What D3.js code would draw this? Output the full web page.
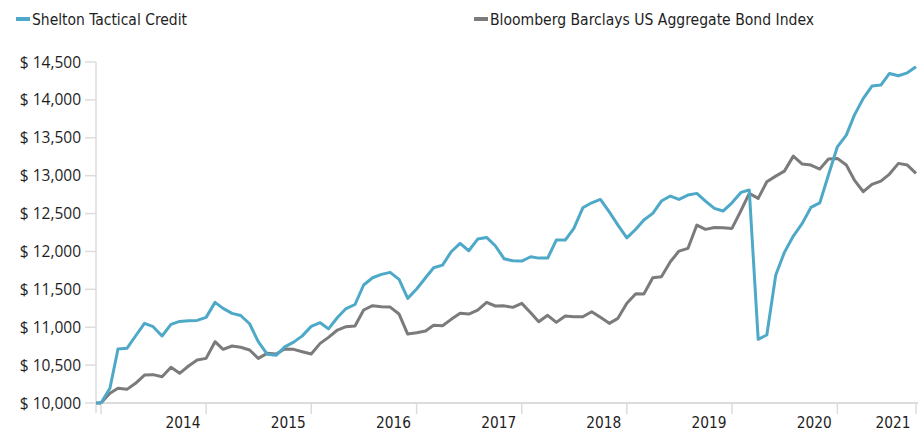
<!DOCTYPE html>
<html>
<head>
<meta charset="utf-8">
<script src="https://cdn.jsdelivr.net/npm/d3@7"></script>
<style>
  html, body { margin: 0; padding: 0; background: #fff; }
  svg { display: block; font-family: "Open Sans", "Noto Sans", sans-serif; }
</style>
</head>
<body>
<div id="chart"></div>
<script>
/* Growth of $10,000 — fund vs. benchmark, month-end values Dec 2013 .. Sep 2021. */
const seriesNames = ['Shelton Tactical Credit', 'Bloomberg Barclays US Aggregate Bond Index'];
const seriesColors = ['#4ea9c8', '#7b7b7b'];

const shelton = [
  10000,10194,10712,10721,10884,11051,11007,10884,11037,11077,11086,11090,
  11130,11328,11249,11183,11155,11046,10809,10644,10629,10740,10803,10886,
  11011,11060,10978,11128,11246,11300,11557,11653,11697,11724,11631,11381,
  11504,11653,11785,11820,11996,12106,12009,12163,12185,12075,11903,11877,
  11873,11930,11912,11912,12150,12150,12304,12576,12642,12686,12523,12348,
  12180,12293,12414,12502,12665,12731,12686,12744,12766,12665,12568,12533,
  12642,12779,12810,10840,10897,11689,11988,12203,12370,12581,12642,13008,
  13381,13535,13799,14020,14182,14195,14349,14318,14357,14436
];
const aggregate = [
  10000,10128,10194,10180,10260,10369,10374,10347,10471,10392,10488,10567,
  10589,10809,10708,10752,10735,10699,10589,10655,10646,10712,10708,10677,
  10646,10787,10866,10963,11007,11016,11227,11284,11270,11266,11174,10910,
  10928,10950,11025,11020,11104,11183,11174,11227,11328,11280,11282,11262,
  11315,11192,11073,11157,11064,11148,11139,11139,11205,11130,11051,11117,
  11315,11442,11438,11653,11666,11864,12005,12040,12348,12291,12317,12313,
  12304,12537,12766,12700,12919,12994,13060,13258,13153,13140,13087,13219,
  13228,13140,12942,12788,12885,12929,13021,13162,13140,13030
];
const yTicks = [10000,10500,11000,11500,12000,12500,13000,13500,14000,14500];
// x ticks: year-ends plus the last month; label sits left of its tick
const xTickDates = ['2014-12-31','2015-12-31','2016-12-31','2017-12-31','2018-12-31','2019-12-31','2020-12-31','2021-09-30'];
const xTickLabels = ['2014','2015','2016','2017','2018','2019','2020','2021'];

(function(){
  const W = 918, H = 432;
  const condensed = '"DejaVu Sans Condensed", "Liberation Sans Narrow", sans-serif';
  const parse = d3.utcParse('%Y-%m-%d');
  // month-end dates for each value
  const start = new Date(Date.UTC(2013, 11, 31));
  const dates = shelton.map((_, i) => d3.utcDay.offset(d3.utcMonth.offset(new Date(Date.UTC(2014, 0, 1)), i), -1));
  const end = dates[dates.length - 1];

  const x = d3.scaleUtc().domain([start, end]).range([101, 916]);
  const y = d3.scaleLinear().domain([10000, 14500]).range([403, 62]);

  const svg = d3.select('#chart').append('svg').attr('width', W).attr('height', H);

  // y axis: line + short ticks + "$ 14,500" labels
  const gy = svg.append('g');
  gy.append('line').attr('x1', 96).attr('x2', 96).attr('y1', y(14500)).attr('y2', 413)
    .attr('stroke', '#dcdcdc').attr('stroke-width', 1.5);
  gy.selectAll('line.t').data(yTicks).join('line').attr('class', 't')
    .attr('x1', 85).attr('x2', 96).attr('y1', d => y(d)).attr('y2', d => y(d))
    .attr('stroke', '#dcdcdc').attr('stroke-width', 1.5);
  gy.selectAll('text').data(yTicks).join('text')
    .attr('x', 81).attr('y', d => y(d)).attr('dy', '0.36em')
    .attr('text-anchor', 'end').attr('fill', '#1e1e1e').style('font-size', '15.5px')
    .text(d => '$ ' + d3.format(',')(d));

  // x axis
  const gx = svg.append('g');
  gx.append('line').attr('x1', 96).attr('x2', 918).attr('y1', 403).attr('y2', 403)
    .attr('stroke', '#dcdcdc').attr('stroke-width', 2);
  const tickDates = [start].concat(xTickDates.map(parse));
  gx.selectAll('line.t').data(tickDates).join('line').attr('class', 't')
    .attr('x1', d => x(d)).attr('x2', d => x(d)).attr('y1', 403).attr('y2', 414)
    .attr('stroke', '#dcdcdc').attr('stroke-width', 1.5);
  gx.selectAll('text').data(xTickDates).join('text')
    .attr('x', d => x(parse(d)) - 23).attr('y', 428)
    .attr('text-anchor', 'middle').attr('fill', '#1e1e1e')
    .style('font-family', condensed).style('font-size', '15px')
    .attr('textLength', 35).attr('lengthAdjust', 'spacingAndGlyphs')
    .text((d, i) => xTickLabels[i]);

  // lines (benchmark underneath); a short flat lead-in from the axis
  const line = d3.line().x((d, i) => x(dates[i])).y(d => y(d));
  [aggregate, shelton].forEach((vals, k) => {
    const c = seriesColors[k === 0 ? 1 : 0];
    svg.append('line').attr('x1', 96).attr('x2', x(dates[0])).attr('y1', y(vals[0])).attr('y2', y(vals[0]))
      .attr('stroke', c).attr('stroke-width', 3);
    svg.append('path').datum(vals)
      .attr('fill', 'none')
      .attr('stroke', c)
      .attr('stroke-width', 3)
      .attr('stroke-linejoin', 'round')
      .attr('d', line);
  });

  // legend
  const legendX = [16, 474], legendW = [155, 324];
  const lg = svg.append('g');
  seriesNames.forEach((name, i) => {
    lg.append('rect').attr('x', legendX[i]).attr('y', 17).attr('width', 14).attr('height', 4)
      .attr('fill', seriesColors[i]);
    lg.append('text').attr('x', legendX[i] + 16).attr('y', 19).attr('dy', '0.36em')
      .attr('fill', '#1e1e1e')
      .style('font-family', condensed).style('font-size', '16px')
      .attr('textLength', legendW[i]).attr('lengthAdjust', 'spacingAndGlyphs')
      .text(name);
  });
})();
</script>
</body>
</html>
